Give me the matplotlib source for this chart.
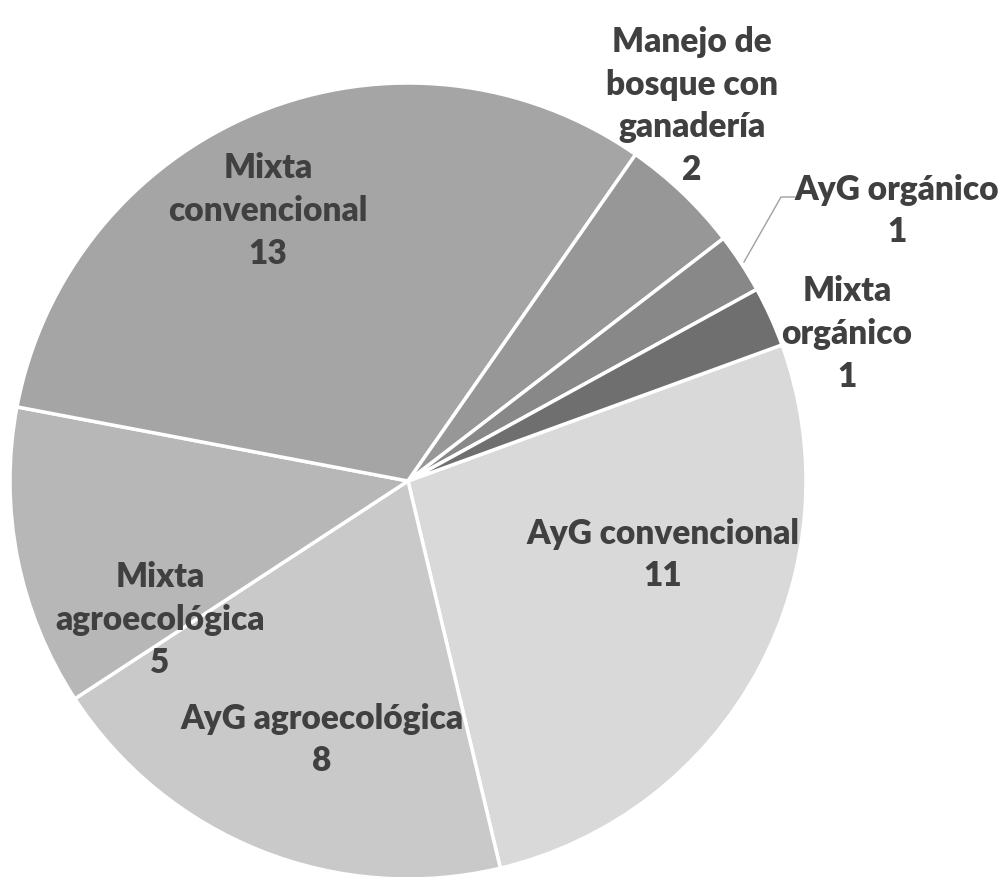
import numpy as np
import matplotlib.pyplot as plt

# -------- Data --------
categories = ["AyG convencional", "AyG agroecológica", "Mixta agroecológica",
              "Mixta convencional", "Manejo de bosque con ganadería",
              "AyG orgánico", "Mixta orgánico"]
values = [11, 8, 5, 13, 2, 1, 1]
label_text = ["AyG convencional", "AyG agroecológica", "Mixta\nagroecológica",
              "Mixta\nconvencional", "Manejo de\nbosque con\nganadería",
              "AyG orgánico", "Mixta\norgánico"]

colors = ["#d9d9d9", "#c9c9c9", "#b7b7b7", "#a5a5a5", "#979797", "#888888", "#6f6f6f"]

# label centres in pixel space of the original picture (layout only)
label_px = [(663, 555), (322, 740), (160, 620), (268, 211), (692, 106),
            (897, 211), (847, 334)]

W, H = 1006, 878
cx, cy, R = 408, 482, 398

plt.rcParams['font.family'] = ['Lato', 'DejaVu Sans']

fig = plt.figure(figsize=(W / 100, H / 100), dpi=100)
ax = fig.add_axes([(cx - R) / W, (H - cy - R) / H, 2 * R / W, 2 * R / H])

ax.pie(values, colors=colors, startangle=20, counterclock=False, radius=1,
       wedgeprops=dict(edgecolor="white", linewidth=2.5))

for txt, v, (px, py) in zip(label_text, values, label_px):
    x = (px - cx) / R
    y = (cy - py) / R
    ax.text(x, y, f"{txt}\n{v}", ha="center", va="center", fontsize=24,
            fontweight="heavy", color="#404040", linespacing=1.42)

# leader line for AyG orgánico
ax.plot([(744 - cx) / R, (781 - cx) / R, (795 - cx) / R],
        [(cy - 263) / R, (cy - 198) / R, (cy - 198) / R],
        color="#a0a0a0", linewidth=1)

ax.set_xlim(-1, 1)
ax.set_ylim(-1, 1)
ax.set_aspect("equal")
ax.axis("off")

fig.savefig("out.png", dpi=100)
